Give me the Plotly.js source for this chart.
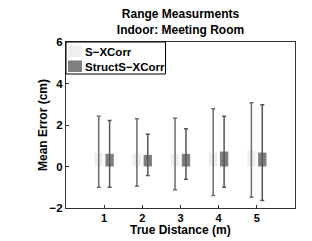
<!DOCTYPE html>
<html>
<head>
<meta charset="utf-8">
<script src="https://cdn.plot.ly/plotly-3.0.1.min.js"></script>
<style>html,body{margin:0;padding:0;background:#fff;}#chart{width:312px;height:241px;}</style>
</head>
<body>
<div id="chart"></div>
<script>
const distances = [1, 2, 3, 4, 5];
const seriesNames = ["S\u2212XCorr", "StructS\u2212XCorr"];
const sxMean = [0.66, 0.64, 0.61, 0.67, 0.80];
const sxHigh = [2.42, 2.30, 2.33, 2.78, 3.07];
const sxLow = [-1.00, -0.95, -1.12, -1.40, -1.48];
const stMean = [0.61, 0.56, 0.61, 0.72, 0.67];
const stHigh = [2.22, 1.55, 1.82, 2.42, 2.97];
const stLow = [-1.00, -0.43, -0.61, -1.00, -1.64];
const yTicks = [-2, 0, 2, 4, 6];
const xTitle = "True Distance (m)";
const yTitle = "Mean Error (cm)";
const colors = ["#efefef", "#7f7f7f"];
const errColors = ["#6e6e6e", "#555555"];

const font = "Liberation Sans, Arial, Helvetica, sans-serif";

function mk(name, mean, hi, lo, color, ecol) {
  return {
    type: "bar", name: name, x: distances, y: mean,
    marker: {color: color, line: {width: 0}},
    error_y: {
      type: "data", symmetric: false,
      array: mean.map((m, i) => hi[i] - m),
      arrayminus: mean.map((m, i) => m - lo[i]),
      color: ecol, thickness: 1.5, width: 2
    }
  };
}

const data = [
  mk(seriesNames[0], sxMean, sxHigh, sxLow, colors[0], errColors[0]),
  mk(seriesNames[1], stMean, stHigh, stLow, colors[1], errColors[1])
];

// plot area: x 66..295 px, y 42..208 px
const pxX = px => (px - 66) / 229;
const pxY = py => (208 - py) / 166;

const shapes = [
  {type: "rect", xref: "paper", yref: "paper", x0: pxX(66), x1: pxX(165.5), y0: pxY(74), y1: pxY(42),
   line: {color: "#000", width: 1}, fillcolor: "#fff", layer: "above"},
  {type: "rect", xref: "paper", yref: "paper", x0: pxX(68), x1: pxX(82), y0: pxY(57), y1: pxY(45.5),
   line: {width: 0}, fillcolor: colors[0], layer: "above"},
  {type: "rect", xref: "paper", yref: "paper", x0: pxX(68), x1: pxX(82), y0: pxY(72), y1: pxY(60.5),
   line: {width: 0}, fillcolor: colors[1], layer: "above"}
];

const annotations = [
  {xref: "paper", yref: "paper", x: pxX(83), y: pxY(51.5), xanchor: "left", yanchor: "middle",
   text: "<b>" + seriesNames[0] + "</b>", showarrow: false, font: {family: font, size: 11.5, color: "#000"}},
  {xref: "paper", yref: "paper", x: pxX(83), y: pxY(66.5), xanchor: "left", yanchor: "middle",
   text: "<b>" + seriesNames[1] + "</b>", showarrow: false, font: {family: font, size: 11.5, color: "#000"}},
  {xref: "paper", yref: "paper", x: 0.5, y: pxY(230), xanchor: "center", yanchor: "middle",
   text: "<b>" + xTitle + "</b>", showarrow: false, font: {family: font, size: 12, color: "#000"}},
  {xref: "paper", yref: "paper", x: pxX(43), y: 0.5, xanchor: "center", yanchor: "middle", textangle: -90,
   text: "<b>" + yTitle + "</b>", showarrow: false, font: {family: font, size: 12, color: "#000"}}
];

const layout = {
  width: 312, height: 241,
  margin: {l: 66, r: 17, t: 42, b: 33, pad: 0},
  paper_bgcolor: "#fff", plot_bgcolor: "#fff",
  font: {family: font, size: 11, color: "#000"},
  barmode: "group", bargap: 0.43, bargroupgap: 0.23,
  showlegend: false,
  shapes: shapes,
  annotations: annotations,
  title: {
    text: "<b>Range Measurments</b><br><b>Indoor: Meeting Room</b>",
    font: {family: font, size: 12, color: "#000"},
    x: 0.5, xref: "paper", xanchor: "center", y: 0.9245, yref: "container", yanchor: "top"
  },
  xaxis: {
    range: [0, 6], tickvals: distances, ticktext: distances.map(d => "<b>" + d + "</b>"),
    ticks: "inside", ticklen: 3, tickcolor: "#333",
    showline: true, linecolor: "#333", linewidth: 1, mirror: true,
    showgrid: false, zeroline: false,
    tickfont: {family: font, size: 11}
  },
  yaxis: {
    range: [-2, 6], tickvals: yTicks, ticktext: yTicks.map(v => "<b>" + (v < 0 ? "\u2212" + (-v) : v) + "</b>"),
    ticks: "inside", ticklen: 3, tickcolor: "#333",
    showline: true, linecolor: "#333", linewidth: 1, mirror: true,
    showgrid: false, zeroline: false,
    tickfont: {family: font, size: 11.5}
  }
};

Plotly.newPlot("chart", data, layout, {staticPlot: true, displayModeBar: false});
</script>
</body>
</html>
